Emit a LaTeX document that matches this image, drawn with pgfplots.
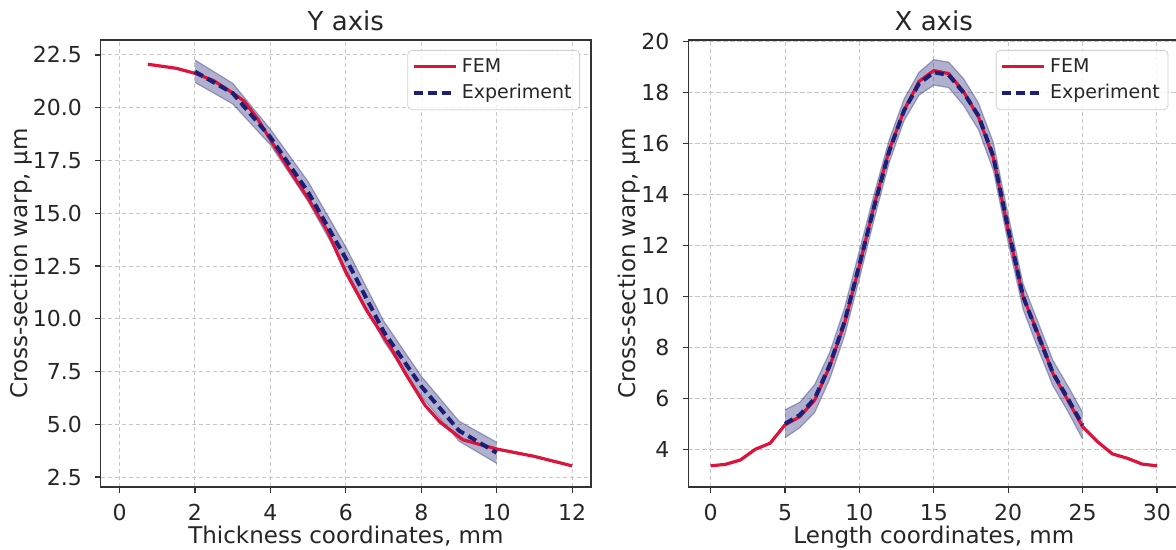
\documentclass[border=0pt]{standalone}
\usepackage{fontspec}
\setmainfont{DejaVu Sans}
\usepackage{pgfplots}
\usepackage{pgfplotstable}
\pgfplotsset{compat=1.18}
\usepgfplotslibrary{fillbetween}
\definecolor{femred}{HTML}{DC143C}
\definecolor{expblue}{HTML}{1C1F75}

% left panel: thickness (Y axis)
\pgfplotstableread{
x y
0.75 22.06
1.5 21.87
2 21.63
2.5 21.28
3 20.7
3.3 20.32
3.65 19.5
4 18.48
4.45 17.2
5 15.7
5.5 14.2
6 12.2
6.55 10.4
7.2 8.6
7.6 7.35
8.1 5.9
8.5 5.1
9.1 4.27
9.6 4.02
10 3.83
11 3.48
12 3.03
}\fy
\pgfplotstableread{
x y lo hi
2 21.71 21.2 22.26
3 20.69 20.18 21.16
4 18.6 18.24 18.98
5 16.0 15.55 16.5
6 12.85 12.35 13.4
7 9.4 8.95 9.9
8 6.8 6.33 7.28
9 4.7 4.2 5.15
10 3.65 3.15 4.15
}\ey

% right panel: length (X axis)
\pgfplotstableread{
x y
0 3.35
1 3.41
2 3.58
3 4.0
4 4.24
5 4.96
6 5.28
7 5.94
8 7.25
9 8.95
10 11.2
11 13.6
12 15.75
13 17.3
14 18.44
15 18.87
16 18.75
17 18.04
18 17.05
19 15.45
20 12.6
21 9.99
22 8.55
23 6.98
24 5.93
25 4.89
26 4.3
27 3.82
28 3.65
29 3.42
30 3.35
}\fx
\pgfplotstableread{
x y lo hi
5 5.0 4.45 5.55
6 5.35 4.85 5.85
7 6.0 5.45 6.55
8 7.3 6.75 7.8
9 9.0 8.45 9.55
10 11.25 10.7 11.8
11 13.55 13.05 14.05
12 15.7 15.25 16.15
13 17.3 16.9 17.75
14 18.35 17.9 18.8
15 18.8 18.3 19.3
16 18.7 18.2 19.2
17 18.0 17.5 18.55
18 17.1 16.55 17.6
19 15.5 14.95 16.05
20 12.65 12.1 13.2
21 10.0 9.5 10.5
22 8.5 7.95 9.0
23 7.0 6.5 7.5
24 6.0 5.5 6.5
25 4.95 4.4 5.45
}\ex

\pgfplotsset{
  panel/.style={
    scale only axis, height=223.5pt,
    axis line style={draw=black!80, line width=0.75pt},
    tick pos=left, tick align=outside, major tick length=2.85pt,
    every tick/.style={draw=black!80, line width=0.6pt},
    grid=major,
    major grid style={draw=black!22, line width=0.5pt, dash pattern=on 2.2pt off 1.3pt},
    /pgf/number format/assume math mode=true,
    tick label style={font=\fontsize{11}{13}\selectfont, text=black!85},
    xticklabel style={anchor=base, yshift=-14pt},
    yticklabel style={anchor=east, inner sep=0pt, xshift=-6.4pt},
    label style={font=\fontsize{11.5}{13}\selectfont, text=black!85},
    xlabel style={at={(axis description cs:0.5,0)}, anchor=base, yshift=-28.5pt},
    every axis title/.style={at={(0.5,1)}, anchor=base, yshift=4.65pt,
      font=\fontsize{13}{15}\selectfont, text=black!85},
    legend style={at={(1,1)}, anchor=north east, xshift=-5.5pt, yshift=-5pt,
      draw=black!18, rounded corners=2pt, fill=white, fill opacity=0.8, text opacity=1,
      font=\fontsize{9.5}{11}\selectfont, inner xsep=2pt, inner ysep=2pt,
      row sep=0.5pt, cells={anchor=west}, text=black!85},
    legend image code/.code={\draw[#1] (0pt,0pt) -- (21pt,0pt);},
    ylabel={Cross-section warp, μm},
  },
  band/.style={draw=expblue, draw opacity=0.35, line width=0.6pt, forget plot},
  femline/.style={femred, line width=1.6pt},
  expline/.style={expblue, line width=2pt, dash pattern=on 4.5pt off 2.5pt},
}

\begin{document}
\begin{tikzpicture}
\begin{axis}[panel,
  at={(0pt,0pt)}, anchor=south west, width=245.15pt,
  xmin=-0.5, xmax=12.5, ymin=2.03, ymax=23.21,
  xtick={0,2,...,12}, ytick={2.5,5,...,22.5},
  yticklabel style={/pgf/number format/.cd, fixed, fixed zerofill, precision=1},
  ylabel style={at={(axis description cs:-0.1626,0.5)}, anchor=center},
  title={Y axis}, xlabel={Thickness coordinates, mm}]
\addplot[band, name path=yhi] table[x=x, y=hi] {\ey};
\addplot[band, name path=ylo] table[x=x, y=lo] {\ey};
\addplot[fill=expblue, fill opacity=0.35, draw=none, forget plot] fill between[of=yhi and ylo];
\addplot[femline] table[x=x, y=y] {\fy};
\addplot[expline] table[x=x, y=y] {\ey};
\legend{FEM, Experiment}
\end{axis}

\begin{axis}[panel,
  at={(293.8pt,0pt)}, anchor=south west, width=245.5pt,
  xmin=-1.5, xmax=31.5, ymin=2.52, ymax=20.07,
  xtick={0,5,...,30}, ytick={4,6,...,20},
  ylabel style={at={(axis description cs:-0.1214,0.5)}, anchor=center},
  title={X axis}, xlabel={Length coordinates, mm}]
\addplot[band, name path=xhi] table[x=x, y=hi] {\ex};
\addplot[band, name path=xlo] table[x=x, y=lo] {\ex};
\addplot[fill=expblue, fill opacity=0.35, draw=none, forget plot] fill between[of=xhi and xlo];
\addplot[femline] table[x=x, y=y] {\fx};
\addplot[expline] table[x=x, y=y] {\ex};
\legend{FEM, Experiment}
\end{axis}
\pgfresetboundingbox
\path[use as bounding box] (-50.35pt,-31.5pt) rectangle (537.65pt,243.5pt);
\end{tikzpicture}
\end{document}
